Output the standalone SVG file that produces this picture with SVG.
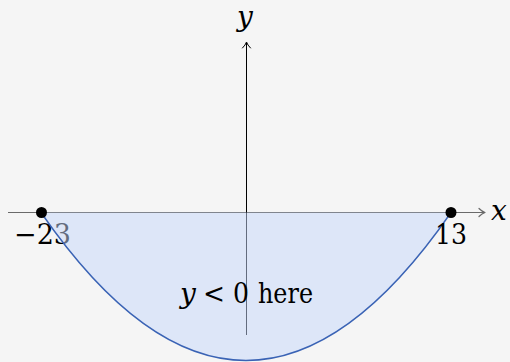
<svg xmlns="http://www.w3.org/2000/svg" width="510" height="362" viewBox="0 0 510 362">
<style>
.t{font-family:"DejaVu Serif",serif;font-size:28px;fill:#000}
.i{font-style:italic}
.arr{fill:none;stroke-linecap:round;stroke-linejoin:round}
</style>
<rect width="510" height="362" fill="#f5f5f5"/>
<g id="axes">
<line x1="8" y1="212.5" x2="484" y2="212.5" stroke="#6a6a6a" stroke-width="1.2"/>
<path class="arr" d="M479,208.5 Q482,211.5 485,212.5 Q482,213.5 479,216.5" stroke="#6a6a6a" stroke-width="1.2"/>
<line x1="246.5" y1="335" x2="246.5" y2="43" stroke="#000" stroke-width="1"/>
<path class="arr" d="M242.5,48 Q245.5,45 246.5,42 Q247.5,45 250.5,48" stroke="#000" stroke-width="1"/>
<text class="t i" x="237" y="26" font-size="27">y</text>
<text class="t i" x="491" y="220" font-size="27">x</text>
</g>
<g id="label-left"><text class="t" x="14" y="244" textLength="57" lengthAdjust="spacingAndGlyphs">−23</text></g>
<g id="region">
<path d="M41,212.5 Q246,508.5 451,212.5 Z" fill="rgb(197,215,251)" fill-opacity="0.5"/>
<path d="M41,212.5 Q246,508.5 451,212.5" fill="none" stroke="#3a63b5" stroke-width="1.4"/>
</g>
<g id="label-right"><text class="t" x="435" y="244" textLength="32" lengthAdjust="spacingAndGlyphs">13</text></g>
<g id="points">
<circle cx="41.5" cy="212.5" r="5.5" fill="#000"/>
<circle cx="451" cy="212.5" r="5.5" fill="#000"/>
</g>
<g id="note"><text class="t" font-size="25"><tspan class="i" x="180" y="303">y</tspan><tspan x="203" y="303" textLength="22" lengthAdjust="spacingAndGlyphs">&lt;</tspan><tspan x="233" y="303" textLength="16" lengthAdjust="spacingAndGlyphs">0</tspan><tspan x="258" y="303" textLength="55" lengthAdjust="spacingAndGlyphs">here</tspan></text></g>
</svg>
